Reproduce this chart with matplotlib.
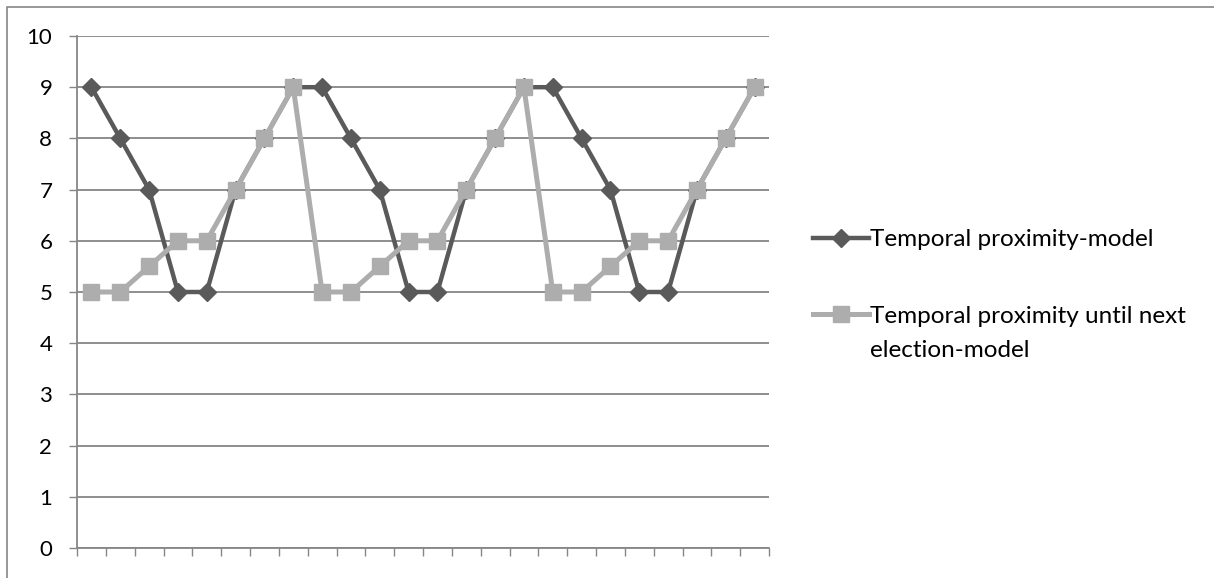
import numpy as np
import matplotlib
matplotlib.use('Agg')
import matplotlib.pyplot as plt
from matplotlib.patches import Rectangle

plt.rcParams['font.family'] = ['Lato', 'DejaVu Sans']

# Data
n_points = 24
temporal = [9, 8, 7, 5, 5, 7, 8, 9,
            9, 8, 7, 5, 5, 7, 8, 9,
            9, 8, 7, 5, 5, 7, 8, 9]
until_next = [5, 5, 5.5, 6, 6, 7, 8, 9,
              5, 5, 5.5, 6, 6, 7, 8, 9,
              5, 5, 5.5, 6, 6, 7, 8, 9]
label_a = 'Temporal proximity-model'
label_b1 = 'Temporal proximity until next'
label_b2 = 'election-model'
y_ticks = list(range(0, 11))

dark = '#5a5a5a'
light = '#adadad'
grid_c = '#868686'
fs = 17.5

W, H = 1214, 578
fig = plt.figure(figsize=(W / 100, H / 100), dpi=100)
ax = fig.add_axes([77 / W, (H - 548) / H, (769 - 77) / W, (548 - 36) / H])

x = np.arange(n_points) + 0.5
ax.plot(x, temporal, color=dark, lw=3.2, marker='D', ms=9,
        mec=dark, mfc=dark, label=label_a, zorder=3)
ax.plot(x, until_next, color=light, lw=3.6, marker='s', ms=12,
        mec=light, mfc=light, label=label_b1, zorder=4)

ax.set_xlim(0, n_points)
ax.set_ylim(0, 10)
ax.set_yticks(y_ticks)
ax.set_xticks(np.arange(n_points + 1))
ax.set_xticklabels([])
ax.yaxis.grid(True, color=grid_c, lw=1.3)
ax.set_axisbelow(True)
for s in ['top', 'right']:
    ax.spines[s].set_visible(False)
for s in ['left', 'bottom']:
    ax.spines[s].set_color(grid_c)
    ax.spines[s].set_linewidth(1.3)
ax.tick_params(axis='both', direction='out', length=5.8, width=1.0,
               color=grid_c, labelsize=16, pad=12)

# outer chart frame
fig.patches.append(Rectangle((7 / W, -0.1), 1.2, 1 - 7 / H + 0.1,
                             transform=fig.transFigure, fill=False,
                             edgecolor=grid_c, lw=1.2))

leg = fig.legend(loc='center left', bbox_to_anchor=(791 / W, 1 - 278 / H),
                 frameon=False, fontsize=fs, handlelength=2.3,
                 handletextpad=0.05, labelspacing=2.3)
fig.canvas.draw()
bb = leg.get_texts()[1].get_window_extent()
fig.text(bb.x0 / W, (bb.y0 - 13) / H, label_b2, fontsize=fs,
         ha='left', va='top')

fig.savefig('out.png', dpi=100)
